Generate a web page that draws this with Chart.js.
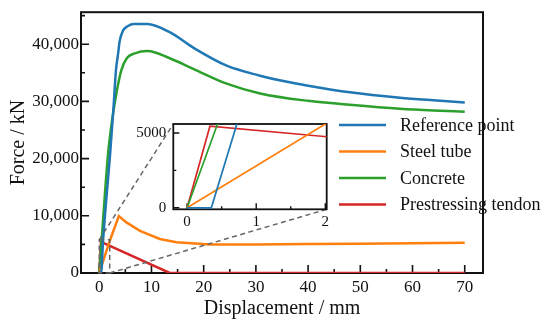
<!DOCTYPE html>
<html>
<head>
<meta charset="utf-8">
<script src="https://cdn.jsdelivr.net/npm/chart.js@4.4.1/dist/chart.umd.min.js"></script>
<style>
  html, body { margin: 0; padding: 0; background: #fff; }
  #wrap { position: relative; width: 550px; height: 323px; }
  #main { position: absolute; left: 0; top: 0; }
  #inset { position: absolute; left: 100px; top: 100px; }
</style>
</head>
<body>
<div id="wrap">
  <canvas id="main" width="550" height="323"></canvas>
  <canvas id="inset" width="240" height="135"></canvas>
</div>
<script>
// force-displacement curves, [displacement mm, force kN]
const referencePoint = [[0, 0], [0.35, 0], [0.72, 5600], [2.1, 21100], [2.75, 29200], [3.2, 35500], [3.6, 38300],
  [3.9, 40500], [4.5, 42300], [5.5, 43200], [6.6, 43550], [9.2, 43550], [13.5, 42100], [18, 39400],
  [24.4, 36250], [30.8, 34500], [35, 33600], [40, 32750], [48, 31600], [57.6, 30650], [64, 30200], [70, 29830]]
const steelTube = [[0, 0], [2, 5600], [3.75, 9950], [5.2, 8850], [7.8, 7380], [11.6, 5950], [14.8, 5370],
  [21.2, 4970], [30, 5000], [40, 5050], [50, 5120], [60, 5200], [70, 5270]]
const concrete = [[0, 0], [0.44, 5600], [1.7, 21000], [2.5, 27000], [3.4, 32000], [4.2, 35400], [5.3, 37600],
  [6.8, 38400], [9.2, 38800], [13.5, 37550], [18, 35700], [24.4, 33100], [30.8, 31400], [40, 30100],
  [48, 29400], [57.6, 28700], [64, 28400], [70, 28200]]
const tendon = [[0, 0], [0.33, 5450], [13.5, 0], [70, 0]]

const seriesNames = ['Reference point', 'Steel tube', 'Concrete', 'Prestressing tendon']
const seriesColors = ['#1f77b4', '#ff7f0e', '#2ca02c', '#d62728']
const seriesData = [referencePoint, steelTube, concrete, tendon]

// ticks
const xTicks = [0, 10, 20, 30, 40, 50, 60, 70]
const xMinor = [5, 15, 25, 35, 45, 55, 65]
const yTicks = [0, 10000, 20000, 30000, 40000]
const yMinor = [5000, 15000, 25000, 35000, 45000]
const insetXTicks = [0, 1, 2]
const insetXMinor = [0.5, 1.5]
const insetYTicks = [0, 5000]
const insetYMinor = [2500]

// zoomed window shown in the inset
const zoomX = [0, 2]
const zoomY = [0, 5800]

const FONT = 'Liberation Serif'
const INK = '#111'

function toPoints(arr) {
    return arr.map(p => ({ x: p[0], y: p[1] }))
}

function frameTicks(opts) {
    return {
        id: 'frameTicks',
        beforeDatasetsDraw(chart) {
            const { ctx, chartArea: a, scales: { x, y } } = chart
            ctx.save()
            ctx.strokeStyle = INK
            ctx.lineWidth = opts.frame
            ctx.strokeRect(a.left, a.top, a.right - a.left, a.bottom - a.top)
            ctx.lineWidth = opts.tickWidth
            ctx.beginPath()
            const tx = (list, len) => list.forEach(v => {
                const px = x.getPixelForValue(v)
                ctx.moveTo(px, a.bottom); ctx.lineTo(px, a.bottom - len)
            })
            const ty = (list, len) => list.forEach(v => {
                const py = y.getPixelForValue(v)
                ctx.moveTo(a.left, py); ctx.lineTo(a.left + len, py)
            })
            tx(opts.xMajor, opts.major); tx(opts.xMinor, opts.minor)
            ty(opts.yMajor, opts.major); ty(opts.yMinor, opts.minor)
            ctx.stroke()
            ctx.restore()
        }
    }
}

const noGrid = { display: false, drawTicks: false }

// inset chart
const insetChart = new Chart(document.getElementById('inset'), {
    type: 'scatter',
    data: {
        datasets: seriesData.map((d, i) => ({
            label: seriesNames[i],
            data: toPoints(d),
            showLine: true,
            borderColor: seriesColors[i],
            borderWidth: 1.7,
            pointRadius: 0,
            tension: 0
        }))
    },
    options: {
        responsive: false,
        animation: false,
        layout: { padding: { top: 24, right: 13.3, left: 0, bottom: 0 } },
        plugins: { legend: { display: false }, tooltip: { enabled: false } },
        scales: {
            x: {
                type: 'linear', min: -0.2, max: 2.02,
                grid: noGrid, border: { display: false },
                afterBuildTicks: s => { s.ticks = insetXTicks.map(v => ({ value: v })) },
                afterFit: s => { s.height = 25.7 },
                ticks: { padding: 4, color: INK, font: { family: FONT, size: 15 }, callback: v => String(v) }
            },
            y: {
                type: 'linear', min: -100, max: 5600,
                grid: noGrid, border: { display: false },
                afterBuildTicks: s => { s.ticks = insetYTicks.map(v => ({ value: v })) },
                afterFit: s => { s.width = 73.3 },
                ticks: { padding: 7, color: INK, font: { family: FONT, size: 15 }, callback: v => String(v) }
            }
        }
    },
    plugins: [{
        id: 'whiteBox',
        beforeDraw(chart) {
            const { ctx, chartArea: a } = chart
            ctx.save()
            ctx.fillStyle = '#fff'
            ctx.fillRect(a.left, a.top, a.right - a.left, a.bottom - a.top)
            ctx.restore()
        }
    }, frameTicks({ frame: 1.8, tickWidth: 1.4, major: 6, minor: 3,
        xMajor: insetXTicks, xMinor: insetXMinor, yMajor: insetYTicks, yMinor: insetYMinor })]
})

// main chart
const mainChart = new Chart(document.getElementById('main'), {
    type: 'scatter',
    data: {
        datasets: seriesData.map((d, i) => ({
            label: seriesNames[i],
            data: toPoints(d),
            showLine: true,
            borderColor: seriesColors[i],
            borderWidth: 2.5,
            pointRadius: 0,
            cubicInterpolationMode: (i === 0 || i === 2) ? 'monotone' : 'default',
            tension: 0
        }))
    },
    options: {
        responsive: false,
        animation: false,
        layout: { padding: { top: 7, right: 67, left: 0, bottom: 0 } },
        plugins: { legend: { display: false }, tooltip: { enabled: false } },
        scales: {
            x: {
                type: 'linear', min: -3.5, max: 73.5,
                grid: noGrid, border: { display: false },
                afterBuildTicks: s => { s.ticks = xTicks.map(v => ({ value: v })) },
                afterFit: s => { s.height = 50 },
                ticks: { padding: 4, color: INK, font: { family: FONT, size: 17 }, callback: v => String(v) },
                title: { display: true, text: 'Displacement / mm', color: INK,
                    font: { family: FONT, size: 20 }, padding: { top: 0, bottom: 2 } }
            },
            y: {
                type: 'linear', min: 0, max: 45600,
                grid: noGrid, border: { display: false },
                afterBuildTicks: s => { s.ticks = yTicks.map(v => ({ value: v })) },
                afterFit: s => { s.width = 81 },
                ticks: { padding: 2, color: INK, font: { family: FONT, size: 17 },
                    callback: v => v.toLocaleString('en-US') },
                title: { display: true, text: 'Force / kN', color: INK,
                    font: { family: FONT, size: 20 }, padding: { top: 7, bottom: 0 } }
            }
        }
    },
    plugins: [frameTicks({ frame: 2, tickWidth: 1.6, major: 8, minor: 4,
        xMajor: xTicks, xMinor: xMinor, yMajor: yTicks, yMinor: yMinor }), {
        id: 'zoomAndLegend',
        afterDraw(chart) {
            const { ctx, scales: { x, y } } = chart
            const x0 = x.getPixelForValue(zoomX[0]), x1 = x.getPixelForValue(zoomX[1])
            const y0 = y.getPixelForValue(zoomY[0]), y1 = y.getPixelForValue(zoomY[1])
            // inset box position inside the main canvas
            const el = document.getElementById('inset')
            const ia = insetChart.chartArea
            const il = el.offsetLeft + ia.left, it = el.offsetTop + ia.top
            const ir = el.offsetLeft + ia.right, ib = el.offsetTop + ia.bottom

            ctx.save()
            ctx.strokeStyle = '#666'
            ctx.lineWidth = 1.5
            ctx.setLineDash([5, 3.5])
            ctx.beginPath()
            ctx.rect(x0, y1, x1 - x0, y0 - y1)
            ctx.moveTo(x0, y1); ctx.lineTo(il, it)
            ctx.moveTo(x1, y0); ctx.lineTo(ir, ib)
            ctx.stroke()
            ctx.setLineDash([])

            // legend
            ctx.font = '18px "' + FONT + '"'
            ctx.textBaseline = 'middle'
            ctx.fillStyle = INK
            seriesNames.forEach((name, i) => {
                const ly = 125 + i * 26.5
                ctx.strokeStyle = seriesColors[i]
                ctx.lineWidth = 2.5
                ctx.beginPath()
                ctx.moveTo(339, ly); ctx.lineTo(386, ly)
                ctx.stroke()
                ctx.fillText(name, 400, ly + 1)
            })
            ctx.restore()
        }
    }]
})
</script>
</body>
</html>
